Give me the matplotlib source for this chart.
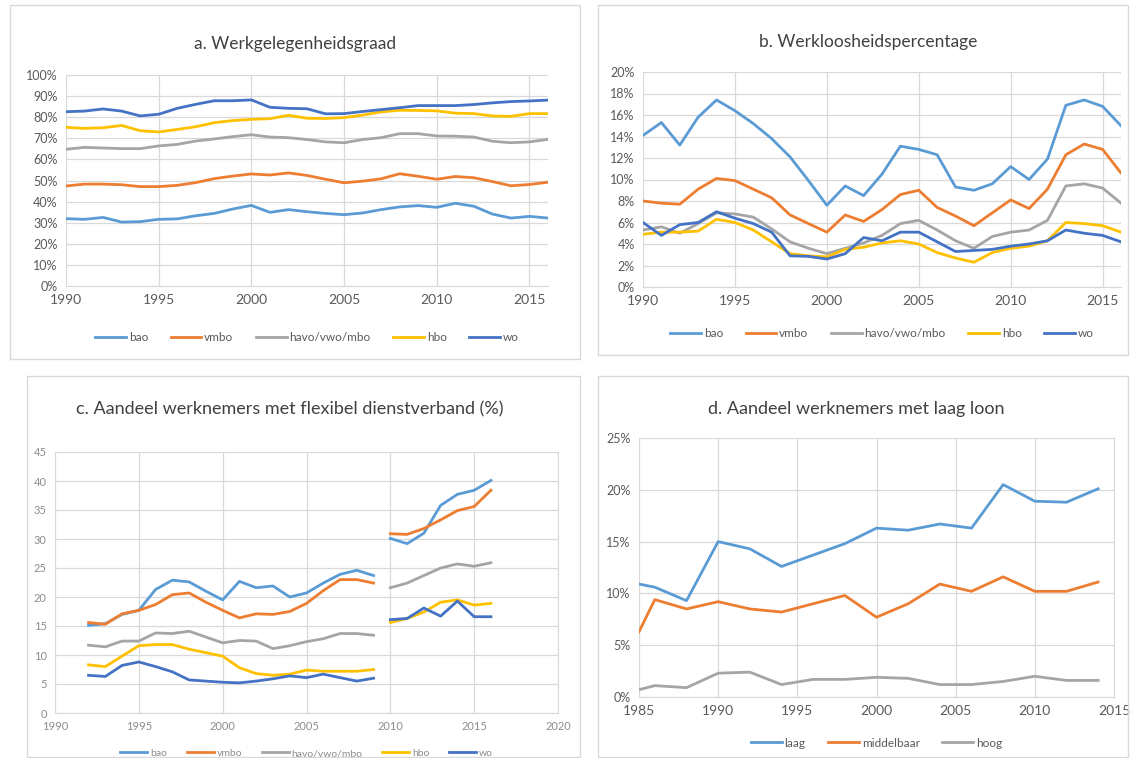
import matplotlib.pyplot as plt
from matplotlib.patches import Rectangle
from matplotlib.ticker import PercentFormatter

plt.rcParams['font.family'] = ['Lato', 'DejaVu Sans']

W, H = 1134, 758

BLUE = '#5B9BD5'
ORANGE = '#ED7D31'
GRAY = '#A5A5A5'
YELLOW = '#FFC000'
DBLUE = '#4472C4'
GRID = '#D9D9D9'
TXT = '#595959'

names = ['bao', 'vmbo', 'havo/vwo/mbo', 'hbo', 'wo']
colors = [BLUE, ORANGE, GRAY, YELLOW, DBLUE]

# a. werkgelegenheidsgraad (%), 1990-2016
a_years = list(range(1990, 2017))
a_bao = [31.9, 31.6, 32.5, 30.3, 30.5, 31.6, 31.8, 33.3, 34.4, 36.5, 38.2, 34.9, 36.2,
         35.2, 34.4, 33.8, 34.6, 36.2, 37.5, 38.1, 37.3, 39.2, 37.8, 34.1, 32.2, 33.0, 32.2]
a_vmbo = [47.4, 48.3, 48.3, 48.0, 47.1, 47.1, 47.7, 49.0, 50.9, 52.1, 53.1, 52.6, 53.6,
          52.4, 50.6, 48.9, 49.7, 50.8, 53.2, 52.0, 50.6, 51.9, 51.3, 49.5, 47.5, 48.1, 49.2]
a_havo = [64.8, 65.7, 65.4, 65.1, 65.1, 66.4, 67.1, 68.7, 69.7, 70.8, 71.7, 70.6, 70.3,
          69.4, 68.3, 67.9, 69.4, 70.3, 72.2, 72.2, 71.1, 71.0, 70.6, 68.6, 67.9, 68.3, 69.5]
a_hbo = [75.2, 74.7, 75.0, 76.1, 73.6, 73.0, 74.2, 75.5, 77.4, 78.4, 79.0, 79.3, 80.9,
         79.5, 79.4, 79.8, 81.0, 82.5, 83.3, 83.2, 83.0, 81.9, 81.7, 80.6, 80.4, 81.7, 81.7]
a_wo = [82.6, 82.9, 83.9, 82.9, 80.6, 81.4, 84.2, 86.1, 87.8, 87.8, 88.2, 84.7, 84.2,
        84.0, 81.6, 81.7, 82.7, 83.6, 84.5, 85.5, 85.5, 85.5, 86.0, 86.8, 87.4, 87.7, 88.1]

# b. werkloosheidspercentage (%), 1990-2016
b_years = list(range(1990, 2017))
b_bao = [14.1, 15.3, 13.2, 15.8, 17.4, 16.4, 15.2, 13.8, 12.1, 9.9, 7.6, 9.4, 8.5,
         10.5, 13.1, 12.8, 12.3, 9.3, 9.0, 9.6, 11.2, 10.0, 11.9, 16.9, 17.4, 16.8, 15.0]
b_vmbo = [8.0, 7.8, 7.7, 9.1, 10.1, 9.9, 9.1, 8.3, 6.7, 5.9, 5.1, 6.7, 6.1,
          7.2, 8.6, 9.0, 7.4, 6.6, 5.7, 6.9, 8.1, 7.3, 9.1, 12.3, 13.3, 12.8, 10.6]
b_havo = [5.3, 5.6, 5.0, 5.9, 6.9, 6.8, 6.5, 5.4, 4.2, 3.6, 3.1, 3.6, 4.1,
          4.8, 5.9, 6.2, 5.3, 4.3, 3.6, 4.7, 5.1, 5.3, 6.2, 9.4, 9.6, 9.2, 7.8]
b_hbo = [4.9, 5.1, 5.1, 5.2, 6.3, 6.0, 5.3, 4.2, 3.1, 2.9, 2.8, 3.5, 3.7,
         4.1, 4.3, 4.0, 3.2, 2.7, 2.3, 3.2, 3.6, 3.8, 4.3, 6.0, 5.9, 5.7, 5.1]
b_wo = [6.0, 4.8, 5.8, 6.0, 7.0, 6.4, 5.9, 5.1, 2.9, 2.85, 2.6, 3.1, 4.6,
        4.3, 5.1, 5.1, 4.2, 3.3, 3.4, 3.5, 3.8, 4.0, 4.3, 5.3, 5.0, 4.8, 4.2]

# c. flexibel dienstverband (%), series break: 1992-2009 and 2010-2016
c_years1 = list(range(1992, 2010))
c_years2 = list(range(2010, 2017))
c_bao1 = [15.1, 15.4, 17.0, 17.7, 21.3, 22.9, 22.6, 21.0, 19.5, 22.7, 21.6, 21.9, 20.0,
          20.7, 22.4, 23.9, 24.6, 23.7]
c_vmbo1 = [15.6, 15.3, 17.1, 17.7, 18.7, 20.4, 20.7, 19.1, 17.7, 16.4, 17.1, 17.0, 17.5,
           18.9, 21.1, 23.0, 23.0, 22.4]
c_havo1 = [11.7, 11.4, 12.4, 12.4, 13.8, 13.7, 14.1, 13.1, 12.1, 12.5, 12.4, 11.1, 11.6,
           12.3, 12.8, 13.7, 13.7, 13.4]
c_hbo1 = [8.3, 8.0, 9.8, 11.6, 11.8, 11.8, 11.0, 10.4, 9.8, 7.8, 6.8, 6.5, 6.7,
          7.4, 7.2, 7.2, 7.2, 7.5]
c_wo1 = [6.5, 6.3, 8.2, 8.8, 8.0, 7.1, 5.7, 5.5, 5.3, 5.2, 5.5, 5.9, 6.4,
         6.1, 6.7, 6.1, 5.5, 6.0]
c_bao2 = [30.1, 29.2, 31.0, 35.8, 37.7, 38.4, 40.1]
c_vmbo2 = [30.9, 30.8, 31.8, 33.3, 34.9, 35.6, 38.4]
c_havo2 = [21.6, 22.4, 23.7, 25.0, 25.7, 25.3, 25.9]
c_hbo2 = [15.6, 16.3, 17.4, 19.1, 19.5, 18.6, 18.9]
c_wo2 = [16.1, 16.3, 18.1, 16.7, 19.3, 16.6, 16.6]

# d. laag loon (%)
d_years = [1985, 1986, 1988, 1990, 1992, 1994, 1996, 1998, 2000, 2002, 2004, 2006, 2008, 2010, 2012, 2014]
d_laag = [10.9, 10.6, 9.3, 15.0, 14.3, 12.6, 13.7, 14.8, 16.3, 16.1, 16.7, 16.3, 20.5, 18.9, 18.8, 20.1]
d_midden = [6.3, 9.4, 8.5, 9.2, 8.5, 8.2, 9.0, 9.8, 7.7, 9.0, 10.9, 10.2, 11.6, 10.2, 10.2, 11.1]
d_hoog = [0.7, 1.1, 0.9, 2.3, 2.4, 1.2, 1.7, 1.7, 1.9, 1.8, 1.2, 1.2, 1.5, 2.0, 1.6, 1.6]


def box(l, t, r, b):
    return [l / W, 1 - b / H, (r - l) / W, (b - t) / H]


def frame(fig, l, t, r, b):
    fig.patches.append(Rectangle((l / W, 1 - b / H), (r - l) / W, (b - t) / H,
                                 transform=fig.transFigure, fill=False,
                                 edgecolor=GRID, linewidth=1.0))


def style(ax, tsize=9, tcol=TXT):
    for s in ['top', 'right', 'left']:
        ax.spines[s].set_visible(False)
    ax.spines['bottom'].set_color(GRID)
    ax.grid(True, color=GRID, linewidth=0.9)
    ax.set_axisbelow(True)
    ax.tick_params(length=0, labelsize=tsize, labelcolor=tcol, pad=6)


def legend(ax, y, fs=8.5, col=TXT, ncol=5):
    ax.legend(loc='center', bbox_to_anchor=(0.5, y), ncol=ncol, frameon=False,
              fontsize=fs, handlelength=2.6, handletextpad=0.25,
              columnspacing=1.9, labelcolor=col)


fig = plt.figure(figsize=(W / 100, H / 100), dpi=100)

frame(fig, 10, 5, 580, 359)
frame(fig, 598, 5, 1128, 355)
frame(fig, 27, 376, 580, 757)
frame(fig, 598, 376, 1128, 757)

# panel a
ax = fig.add_axes(box(66, 75, 548, 286))
for vals, c, n in zip([a_bao, a_vmbo, a_havo, a_hbo, a_wo], colors, names):
    ax.plot(a_years, vals, color=c, lw=2.0, label=n)
ax.set_xlim(1990, 2016)
ax.set_ylim(0, 100)
ax.set_yticks(range(0, 101, 10))
ax.set_xticks(range(1990, 2016, 5))
ax.yaxis.set_major_formatter(PercentFormatter(decimals=0))
style(ax)
ax.tick_params(axis='x', labelsize=10)
fig.text(295 / W, 1 - 44 / H, 'a. Werkgelegenheidsgraad', ha='center', va='center',
         fontsize=12.5, color='#404040')
legend(ax, -0.245)

# panel b
ax = fig.add_axes(box(643, 72, 1121, 287))
for vals, c, n in zip([b_bao, b_vmbo, b_havo, b_hbo, b_wo], colors, names):
    ax.plot(b_years, vals, color=c, lw=2.0, label=n)
ax.set_xlim(1990, 2016)
ax.set_ylim(0, 20)
ax.set_yticks(range(0, 21, 2))
ax.set_xticks(range(1990, 2016, 5))
ax.yaxis.set_major_formatter(PercentFormatter(decimals=0))
style(ax)
ax.tick_params(axis='x', labelsize=10)
fig.text(868 / W, 1 - 42 / H, 'b. Werkloosheidspercentage', ha='center', va='center',
         fontsize=12.5, color='#404040')
legend(ax, -0.215)

# panel c
ax = fig.add_axes(box(55, 452, 558, 713))
seg1 = [c_bao1, c_vmbo1, c_havo1, c_hbo1, c_wo1]
seg2 = [c_bao2, c_vmbo2, c_havo2, c_hbo2, c_wo2]
for v1, v2, c, n in zip(seg1, seg2, colors, names):
    ax.plot(c_years1, v1, color=c, lw=2.0, label=n)
    ax.plot(c_years2, v2, color=c, lw=2.0)
ax.set_xlim(1990, 2020)
ax.set_ylim(0, 45)
ax.set_yticks(range(0, 46, 5))
ax.set_xticks(range(1990, 2021, 5))
style(ax, tsize=8, tcol='#8C8C8C')
ax.spines['right'].set_visible(True)
ax.spines['right'].set_color(GRID)
fig.text(290 / W, 1 - 409 / H, 'c. Aandeel werknemers met flexibel dienstverband (%)',
         ha='center', va='center', fontsize=13, color='#404040')
legend(ax, -0.155, fs=7.5, col='#8C8C8C')

# panel d
ax = fig.add_axes(box(639, 438, 1114, 697))
ax.plot(d_years, d_laag, color=BLUE, lw=2.0, label='laag')
ax.plot(d_years, d_midden, color=ORANGE, lw=2.0, label='middelbaar')
ax.plot(d_years, d_hoog, color=GRAY, lw=2.0, label='hoog')
ax.set_xlim(1985, 2015)
ax.set_ylim(0, 25)
ax.set_yticks(range(0, 26, 5))
ax.set_xticks(range(1985, 2016, 5))
ax.yaxis.set_major_formatter(PercentFormatter(decimals=0))
style(ax)
ax.tick_params(axis='x', labelsize=10)
ax.spines['right'].set_visible(True)
ax.spines['right'].set_color(GRID)
fig.text(856 / W, 1 - 409 / H, 'd. Aandeel werknemers met laag loon', ha='center',
         va='center', fontsize=13, color='#404040')
legend(ax, -0.178, ncol=3)

fig.savefig('out.png', dpi=100)
